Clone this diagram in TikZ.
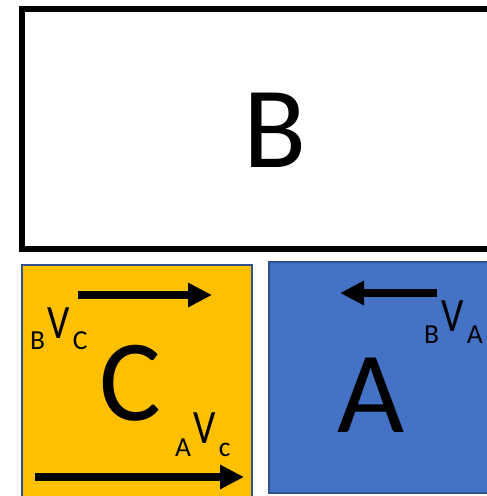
\documentclass[tikz,border=0pt]{standalone}
\usepackage{fontspec}
\setmainfont{Carlito}
\usetikzlibrary{arrows.meta}
\definecolor{cOrange}{HTML}{FFC000}
\definecolor{cBlue}{HTML}{4472C4}
\definecolor{cEdge}{HTML}{2F528F}
\newcommand{\bigletfont}{\fontsize{116}{116}\selectfont}
\newcommand{\vfont}{\fontsize{48}{48}\selectfont}
\newcommand{\subfont}{\fontsize{27.5}{27.5}\selectfont}
\newcommand{\relv}[3]{\raisebox{-#3}{\subfont #1}\hspace{2.5pt}\scalebox{0.82}[1]{\vfont V}\hspace{3pt}\raisebox{-#3}{\subfont #2}}
\begin{document}
\begin{tikzpicture}[x=1pt,y=-1pt,
  box/.style={draw=cEdge,line width=2pt,inner sep=0pt},
  vel/.style={line width=8pt,-{Triangle[length=24pt,width=23pt]}},
  letter/.style={font=\bigletfont,inner sep=0pt,anchor=base},
  rel/.style={inner sep=0pt,anchor=base west}]
\useasboundingbox (0,0) rectangle (487,496);
\clip (0,0) rectangle (487,496);
\node[draw=black,line width=5.5pt,minimum width=506pt,minimum height=240pt,inner sep=0pt] (Bbox) at (275,129) {};
\node[box,fill=cOrange,minimum width=229.7pt,minimum height=245pt] (Cbox) at (136.85,387.5) {};
\node[box,fill=cBlue,minimum width=241pt,minimum height=231.3pt] (Abox) at (389.5,377.35) {};
\node[letter] (Bl) at (275,167) {B};
\node[letter] (Cl) at (130.5,420) {C};
\node[letter] (Al) at (371.5,432) {A};
\node[rel] (bvc) at (30,338) {\relv{B}{C}{11pt}};
\node[rel] (avc) at (175,443) {\relv{A}{c}{13pt}};
\node[rel] (bva) at (424,331) {\relv{B}{A}{12pt}};
\coordinate (c1s) at (78,295);
\coordinate (c1e) at (212,295);
\coordinate (c2s) at (35,477);
\coordinate (c2e) at (244,477);
\coordinate (a1s) at (437,293);
\coordinate (a1e) at (340,293);
\draw[vel] (c1s) -- (c1e);
\draw[vel] (c2s) -- (c2e);
\draw[vel] (a1s) -- (a1e);
\end{tikzpicture}
\end{document}
